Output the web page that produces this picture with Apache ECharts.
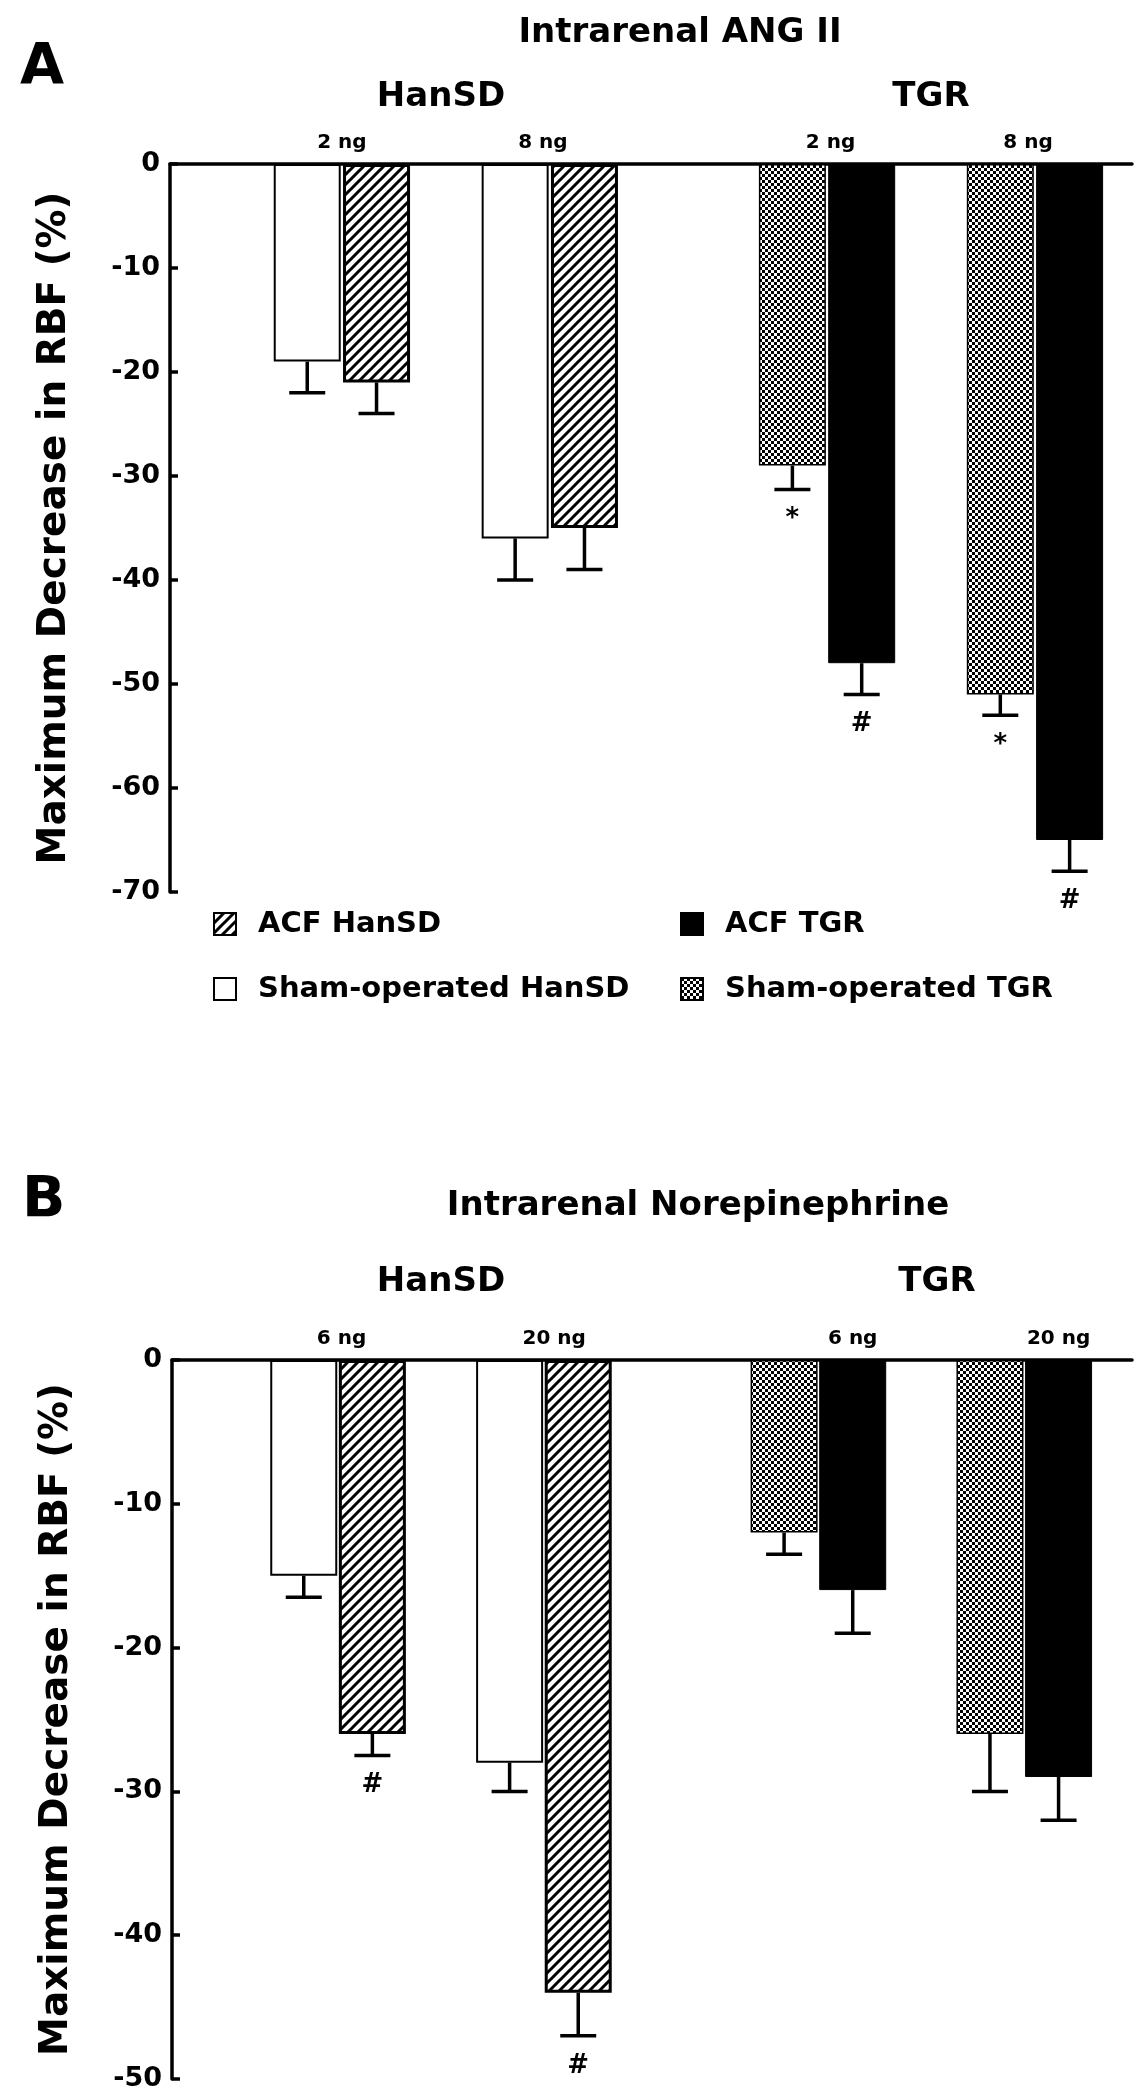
<!DOCTYPE html>
<html><head><meta charset="utf-8">
<script src="https://cdn.jsdelivr.net/npm/echarts@6/dist/echarts.min.js"></script>
<style>html,body{margin:0;padding:0;background:#fff}#c{width:1145px;height:2100px}</style>
</head><body><div id="c"></div>
<script>
// ---------------- DATA ----------------
const panelTitles = ['Intrarenal ANG II', 'Intrarenal Norepinephrine'];
const panelLetters = ['A', 'B'];
const strains = ['HanSD', 'TGR'];
const dosesA = ['2 ng', '8 ng'];
const dosesB = ['6 ng', '20 ng'];
const seriesNames = ['Sham-operated HanSD', 'ACF HanSD', 'Sham-operated TGR', 'ACF TGR'];
const yAxisTitle = 'Maximum Decrease in RBF (%)';

// Panel A (Intrarenal ANG II)
const shamHanA = [-19, -36];   const shamHanAErr = [3, 4];
const acfHanA  = [-21, -35];   const acfHanAErr  = [3, 4];
const shamTgrA = [-29, -51];   const shamTgrAErr = [2.3, 2];
const acfTgrA  = [-48, -65];   const acfTgrAErr  = [3, 3];
const shamTgrASig = ['*', '*'];
const acfTgrASig  = ['#', '#'];

// Panel B (Intrarenal Norepinephrine)
const shamHanB = [-15, -28];   const shamHanBErr = [1.5, 2];
const acfHanB  = [-26, -44];   const acfHanBErr  = [1.5, 3];
const shamTgrB = [-12, -26];   const shamTgrBErr = [1.5, 4];
const acfTgrB  = [-16, -29];   const acfTgrBErr  = [3, 3];
const acfHanBSig = ['#', '#'];

const yMinA = -70, yMinB = -50, yStep = 10;

// ---------------- STYLE ----------------
const FONT = '"DejaVu Sans", sans-serif';
function hatchPattern() {
  const S = 10, c = document.createElement('canvas'); c.width = S; c.height = S;
  const g = c.getContext('2d'); g.fillStyle = '#fff'; g.fillRect(0, 0, S, S);
  g.strokeStyle = '#000'; g.lineWidth = 3; g.lineCap = 'square';
  g.beginPath();
  g.moveTo(0, S); g.lineTo(S, 0);
  g.moveTo(-S / 2, S / 2); g.lineTo(S / 2, -S / 2);
  g.moveTo(S / 2, S * 1.5); g.lineTo(S * 1.5, S / 2);
  g.stroke();
  return { image: c, repeat: 'repeat' };
}
function checkPattern() {
  const S = 6, c = document.createElement('canvas'); c.width = S; c.height = S;
  const g = c.getContext('2d'); g.fillStyle = '#fff'; g.fillRect(0, 0, S, S);
  g.fillStyle = '#000'; g.fillRect(0, 0, 3, 3); g.fillRect(3, 3, 3, 3);
  return { image: c, repeat: 'repeat' };
}
const styles = {
  'Sham-operated HanSD': { color: '#fff', borderColor: '#000', borderWidth: 2 },
  'ACF HanSD': { color: hatchPattern(), borderColor: '#000', borderWidth: 3 },
  'Sham-operated TGR': { color: checkPattern(), borderColor: '#000', borderWidth: 1.5 },
  'ACF TGR': { color: '#000', borderColor: '#000', borderWidth: 1 }
};

// layout (x positions in axis units; pair centres)
const layout = [
  { grid: { left: 170, top: 164, width: 962, height: 728 }, xMin: -2.48, xMax: 11.4, yMin: yMinA,
    pairs: { HanSD: [0, 3], TGR: [7, 10] }, labelPos: [0, 2.9, 7.05, 9.9], doses: dosesA },
  { grid: { left: 172, top: 1360, width: 960, height: 719 }, xMin: -2.42, xMax: 11.57, yMin: yMinB,
    pairs: { HanSD: [0, 3], TGR: [7, 10] }, labelPos: [0.05, 3.15, 7.5, 10.5], doses: dosesB }
];

const panelData = [
  [
    { name: seriesNames[0], strain: 'HanSD', side: -1, v: shamHanA, e: shamHanAErr, sig: null },
    { name: seriesNames[1], strain: 'HanSD', side: 1, v: acfHanA, e: acfHanAErr, sig: null },
    { name: seriesNames[2], strain: 'TGR', side: -1, v: shamTgrA, e: shamTgrAErr, sig: shamTgrASig },
    { name: seriesNames[3], strain: 'TGR', side: 1, v: acfTgrA, e: acfTgrAErr, sig: acfTgrASig }
  ],
  [
    { name: seriesNames[0], strain: 'HanSD', side: -1, v: shamHanB, e: shamHanBErr, sig: null },
    { name: seriesNames[1], strain: 'HanSD', side: 1, v: acfHanB, e: acfHanBErr, sig: acfHanBSig },
    { name: seriesNames[2], strain: 'TGR', side: -1, v: shamTgrB, e: shamTgrBErr, sig: null },
    { name: seriesNames[3], strain: 'TGR', side: 1, v: acfTgrB, e: acfTgrBErr, sig: null }
  ]
];

const grids = [], xAxes = [], yAxes = [], series = [];
layout.forEach((L, gi) => {
  grids.push(L.grid);
  const labels = L.doses.concat(L.doses);
  xAxes.push({
    type: 'value', gridIndex: gi, min: L.xMin, max: L.xMax, position: 'top',
    axisLine: { show: true, onZero: false, lineStyle: { color: '#000', width: 3.5 } },
    axisTick: { show: false }, splitLine: { show: false },
    axisLabel: {
      customValues: L.labelPos,
      formatter: (val) => {
        const i = L.labelPos.findIndex(p => Math.abs(p - val) < 1e-6);
        return i >= 0 ? labels[i] : '';
      },
      color: '#000', fontFamily: FONT, fontWeight: 'bold', fontSize: 20, margin: 11
    }
  });
  yAxes.push({
    type: 'value', gridIndex: gi, min: L.yMin, max: 0, interval: yStep, position: 'left',
    axisLine: { show: true, onZero: false, lineStyle: { color: '#000', width: 3.5 } },
    axisTick: { show: true, inside: true, length: 8, lineStyle: { color: '#000', width: 3.5 } },
    axisLabel: { color: '#000', fontFamily: FONT, fontWeight: 'bold', fontSize: 27, margin: 10 },
    splitLine: { show: false },
    name: yAxisTitle, nameLocation: 'middle', nameGap: 96,
    nameTextStyle: { color: '#000', fontFamily: FONT, fontWeight: 'bold', fontSize: 39 }
  });
  panelData[gi].forEach(s => {
    const xs = L.pairs[s.strain].map(p => p + s.side * 0.5);
    series.push({
      type: 'bar', name: s.name, xAxisIndex: gi, yAxisIndex: gi,
      barWidth: 67, barGap: '-100%', z: 2,
      itemStyle: styles[s.name],
      data: s.v.map((v, i) => [xs[i], v])
    });
    const sig = s.sig;
    series.push({
      type: 'custom', name: s.name + ' SEM', xAxisIndex: gi, yAxisIndex: gi, z: 5, silent: true,
      encode: { x: 0, y: 1 },
      data: s.v.map((v, i) => [xs[i], v, s.e[i]]),
      renderItem: (params, api) => {
        const x = api.value(0), v = api.value(1), e = api.value(2);
        const p0 = api.coord([x, v]), p1 = api.coord([x, v - e]);
        const hw = 18;
        const children = [
          { type: 'line', shape: { x1: p0[0], y1: p0[1], x2: p1[0], y2: p1[1] }, style: { stroke: '#000', lineWidth: 3.5 } },
          { type: 'line', shape: { x1: p1[0] - hw, y1: p1[1], x2: p1[0] + hw, y2: p1[1] }, style: { stroke: '#000', lineWidth: 3.5 } }
        ];
        if (sig && sig[params.dataIndex]) {
          const t = sig[params.dataIndex];
          children.push({ type: 'text', x: p1[0], y: p1[1] + 30,
            style: { text: t, font: 'bold 26px ' + FONT, fill: '#000', align: 'center', verticalAlign: 'middle' } });
        }
        return { type: 'group', children };
      }
    });
  });
});

const legendText = { color: '#000', fontFamily: FONT, fontWeight: 'bold', fontSize: 29, lineHeight: 30, padding: [0, 0, 0, 17] };
const option = {
  animation: false,
  backgroundColor: '#fff',
  grid: grids, xAxis: xAxes, yAxis: yAxes, series: series,
  legend: [
    { data: [seriesNames[1], seriesNames[0]], orient: 'vertical', left: 208, top: 904, icon: 'rect',
      itemWidth: 22, itemHeight: 22, itemGap: 35, selectedMode: false, textStyle: legendText },
    { data: [seriesNames[3], seriesNames[2]], orient: 'vertical', left: 675, top: 904, icon: 'rect',
      itemWidth: 22, itemHeight: 22, itemGap: 35, selectedMode: false, textStyle: legendText }
  ],
  graphic: [
    { type: 'text', x: 20, y: 69, style: { text: panelLetters[0], font: 'bold 57px ' + FONT, fill: '#000', verticalAlign: 'middle' } },
    { type: 'text', x: 680, y: 33, style: { text: panelTitles[0], font: 'bold 34px ' + FONT, fill: '#000', align: 'center', verticalAlign: 'middle' } },
    { type: 'text', x: 441, y: 97, style: { text: strains[0], font: 'bold 34px ' + FONT, fill: '#000', align: 'center', verticalAlign: 'middle' } },
    { type: 'text', x: 931, y: 97, style: { text: strains[1], font: 'bold 34px ' + FONT, fill: '#000', align: 'center', verticalAlign: 'middle' } },
    { type: 'text', x: 22, y: 1202, style: { text: panelLetters[1], font: 'bold 57px ' + FONT, fill: '#000', verticalAlign: 'middle' } },
    { type: 'text', x: 698, y: 1206, style: { text: panelTitles[1], font: 'bold 34px ' + FONT, fill: '#000', align: 'center', verticalAlign: 'middle' } },
    { type: 'text', x: 441, y: 1282, style: { text: strains[0], font: 'bold 34px ' + FONT, fill: '#000', align: 'center', verticalAlign: 'middle' } },
    { type: 'text', x: 937, y: 1282, style: { text: strains[1], font: 'bold 34px ' + FONT, fill: '#000', align: 'center', verticalAlign: 'middle' } }
  ]
};
const chart = echarts.init(document.getElementById('c'), null, { renderer: 'canvas', width: 1145, height: 2100 });
chart.setOption(option);
</script>
</body></html>
